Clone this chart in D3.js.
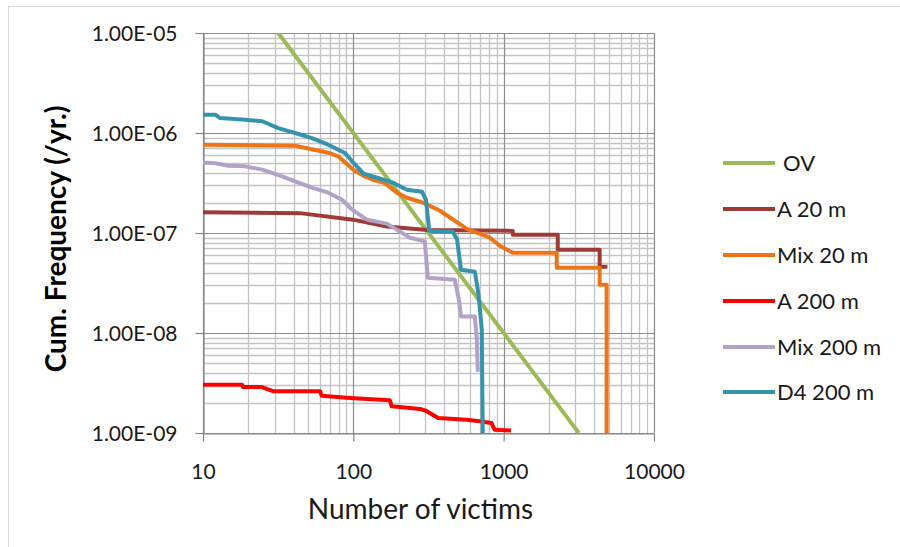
<!DOCTYPE html>
<html>
<head>
<meta charset="utf-8">
<script src="https://cdn.jsdelivr.net/npm/d3@7"></script>
<style>
  html, body { margin: 0; padding: 0; background: #fff; }
  svg { display: block; font-family: Lato, "Open Sans", sans-serif; }
</style>
</head>
<body>
<svg id="chart" width="900" height="547"></svg>
<script>
// ---- Data ----
const xTicks = [10, 100, 1000, 10000];
const xTickLabels = ["10", "100", "1000", "10000"];
const yTicks = [1e-5, 1e-6, 1e-7, 1e-8, 1e-9];
const yTickLabels = ["1.00E-05", "1.00E-06", "1.00E-07", "1.00E-08", "1.00E-09"];

const seriesNames = ["OV", "A 20 m", "Mix 20 m", "A 200 m", "Mix 200 m", "D4 200 m"];
const seriesColors = ["#9BBB59", "#9E3B36", "#EE7418", "#FF0000", "#B3A2C7", "#3594AD"];

const ovN = [31.62, 3162];
const ovF = [1e-5, 1e-9];

const a20N = [10, 44, 99.5, 167, 309, 1150, 1150, 2290, 2290, 4350, 4350, 4900];
const a20F = [1.61e-7, 1.58e-7, 1.36e-7, 1.16e-7, 1.07e-7, 1.05e-7, 9.6e-8, 9.6e-8, 6.8e-8, 6.8e-8, 4.6e-8, 4.6e-8];

const mix20N = [10, 41, 68, 80, 100, 120, 135, 160, 195, 227, 290, 377, 569, 809, 942, 1150, 2253, 2253, 4350, 4350, 4840, 4840];
const mix20F = [7.64e-7, 7.46e-7, 6.35e-7, 5.79e-7, 4.3e-7, 3.66e-7, 3.41e-7, 3.18e-7, 2.53e-7, 2.25e-7, 2.01e-7, 1.67e-7, 1.1e-7, 8.97e-8, 7.46e-8, 6.35e-8, 6.35e-8, 4.5e-8, 4.5e-8, 3.04e-8, 3.04e-8, 1e-9];

const a200N = [10, 18.2, 18.5, 24.6, 29.5, 60, 61.6, 95, 175, 180, 277, 304, 366, 567, 693, 830, 870, 1120];
const a200F = [3.04e-9, 3.04e-9, 2.88e-9, 2.88e-9, 2.61e-9, 2.61e-9, 2.36e-9, 2.24e-9, 2.12e-9, 1.85e-9, 1.74e-9, 1.67e-9, 1.41e-9, 1.36e-9, 1.31e-9, 1.26e-9, 1.08e-9, 1.06e-9];

const mix200N = [10, 12.1, 14.7, 19.1, 24.8, 33.6, 41, 53, 68, 84, 98, 123, 167, 238, 299, 313, 473, 504, 520, 643, 662, 673];
const mix200F = [5.08e-7, 4.99e-7, 4.71e-7, 4.64e-7, 4.3e-7, 3.68e-7, 3.28e-7, 2.84e-7, 2.53e-7, 2.15e-7, 1.71e-7, 1.36e-7, 1.24e-7, 8.97e-8, 8.24e-8, 3.57e-8, 3.41e-8, 2.15e-8, 1.46e-8, 1.46e-8, 8.97e-9, 4.1e-9];

const d4N = [10, 12.1, 13.0, 19.1, 24.8, 31.6, 41, 53, 68, 88, 100, 117, 144, 184, 227, 286, 304, 320, 459, 490, 520, 643, 673, 693, 715, 726];
const d4F = [1.52e-6, 1.52e-6, 1.41e-6, 1.36e-6, 1.31e-6, 1.12e-6, 1.0e-6, 8.9e-7, 7.64e-7, 6.31e-7, 5.05e-7, 3.92e-7, 3.57e-7, 3.18e-7, 2.71e-7, 2.59e-7, 2.15e-7, 1.05e-7, 1.03e-7, 8.6e-8, 4.3e-8, 4.1e-8, 2.71e-8, 1.83e-8, 1.08e-8, 1e-9];

const seriesN = [ovN, a20N, mix20N, a200N, mix200N, d4N];
const seriesF = [ovF, a20F, mix20F, a200F, mix200F, d4F];

// ---- Layout ----
const svg = d3.select("#chart");
const plot = { left: 203, right: 654, top: 33, bottom: 433 };

const x = d3.scaleLog().domain([10, 10000]).range([plot.left, plot.right]);
const y = d3.scaleLog().domain([1e-9, 1e-5]).range([plot.bottom, plot.top]);

// outer chart border
svg.append("rect").attr("x", 8.5).attr("y", 6.5).attr("width", 1000).attr("height", 1000)
  .attr("fill", "none").attr("stroke", "#d9d9d9").attr("stroke-width", 1);

// gridlines
const minorX = [], minorY = [];
for (let d = 10; d < 10000; d *= 10) for (let k = 2; k <= 9; k++) minorX.push(d * k);
for (let d = 1e-9; d < 1e-5 * 0.99; d *= 10) for (let k = 2; k <= 9; k++) minorY.push(d * k);

const grid = svg.append("g");
grid.selectAll(".mx").data(minorX).join("line")
  .attr("x1", d => Math.round(x(d)) + 0.5).attr("x2", d => Math.round(x(d)) + 0.5)
  .attr("y1", plot.top).attr("y2", plot.bottom)
  .attr("stroke", "#c4c4c4").attr("stroke-width", 1.3);
grid.selectAll(".my").data(minorY).join("line")
  .attr("y1", d => Math.round(y(d)) + 0.5).attr("y2", d => Math.round(y(d)) + 0.5)
  .attr("x1", plot.left).attr("x2", plot.right)
  .attr("stroke", "#c4c4c4").attr("stroke-width", 1.3);
grid.selectAll(".Mx").data(xTicks).join("line")
  .attr("x1", d => Math.round(x(d)) + 0.5).attr("x2", d => Math.round(x(d)) + 0.5)
  .attr("y1", plot.top).attr("y2", plot.bottom)
  .attr("stroke", "#8c8c8c").attr("stroke-width", 1.2);
grid.selectAll(".My").data(yTicks).join("line")
  .attr("y1", d => Math.round(y(d)) + 0.5).attr("y2", d => Math.round(y(d)) + 0.5)
  .attr("x1", plot.left).attr("x2", plot.right)
  .attr("stroke", "#8c8c8c").attr("stroke-width", 1.2);

// axes
const xAxis = d3.axisBottom(x).tickValues(xTicks).tickFormat((d, i) => xTickLabels[i]).tickSize(8).tickSizeOuter(0);
const yAxis = d3.axisLeft(y).tickValues(yTicks).tickFormat((d, i) => yTickLabels[i]).tickSize(8).tickSizeOuter(0);

const gx = svg.append("g").attr("transform", `translate(0,${plot.bottom + 0.5})`).call(xAxis);
const gy = svg.append("g").attr("transform", `translate(${plot.left + 0.5},0)`).call(yAxis);
[gx, gy].forEach(g => {
  g.select(".domain").attr("stroke", "#868686").attr("stroke-width", 1.2);
  g.selectAll(".tick line").attr("stroke", "#868686").attr("stroke-width", 1.2);
  g.selectAll(".tick text").attr("fill", "#1a1a1a").style("font-size", "21px").style("font-family", "Lato, sans-serif");
});
gx.selectAll(".tick text").attr("dy", "0").attr("y", 45);
gy.selectAll(".tick text").attr("x", -26).attr("dy", "0.35em");

// axis titles
svg.append("text").attr("x", 420.5).attr("y", 519).attr("text-anchor", "middle")
  .style("font-size", "28px").attr("fill", "#1a1a1a").text("Number of victims");
svg.append("text").attr("transform", "translate(66,239) rotate(-90)").attr("text-anchor", "middle")
  .style("font-size", "28px").style("font-weight", "bold").attr("fill", "#000").text("Cum. Frequency (/yr.)");

// clip
svg.append("clipPath").attr("id", "clip").append("rect")
  .attr("x", plot.left).attr("y", plot.top).attr("width", plot.right - plot.left).attr("height", plot.bottom - plot.top + 1);

const line = d3.line().x(d => x(d[0])).y(d => y(d[1]));
const gl = svg.append("g").attr("clip-path", "url(#clip)");
seriesNames.forEach((name, i) => {
  const pts = seriesN[i].map((n, j) => [n, seriesF[i][j]]);
  gl.append("path").datum(pts).attr("d", line)
    .attr("fill", "none").attr("stroke", seriesColors[i])
    .attr("stroke-width", 4).attr("stroke-linejoin", "round").attr("stroke-linecap", "butt");
});

// legend
const legendY = [163, 209, 255, 301, 347, 392];
const lg = svg.append("g");
seriesNames.forEach((name, i) => {
  lg.append("line").attr("x1", 723).attr("x2", 775).attr("y1", legendY[i]).attr("y2", legendY[i])
    .attr("stroke", seriesColors[i]).attr("stroke-width", 4);
  lg.append("text").attr("x", i === 0 ? 783 : 777).attr("y", legendY[i]).attr("dy", "0.35em")
    .style("font-size", "22px").attr("fill", "#1a1a1a").text(name);
});
</script>
</body>
</html>
